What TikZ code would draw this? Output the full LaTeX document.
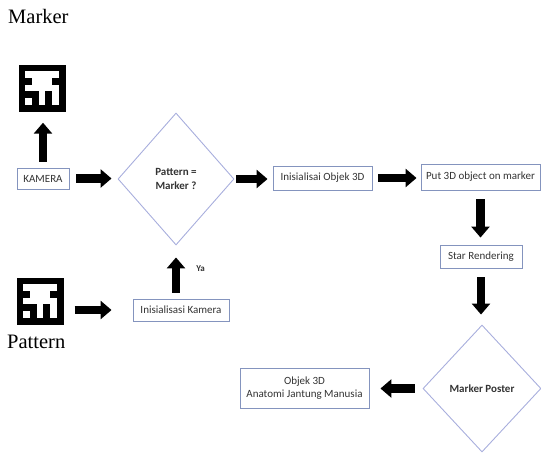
\documentclass[tikz,border=0pt]{standalone}
\usepackage{fontspec}
\setmainfont{Liberation Serif}
\newfontfamily\boxfont{Carlito}
\usetikzlibrary{shapes.geometric,arrows.meta}
\definecolor{boxline}{HTML}{8494BE}
\definecolor{dialine}{HTML}{A8AEDD}
\definecolor{txt}{HTML}{333333}
\begin{document}
\begin{tikzpicture}[x=1pt,y=-1pt,
  procbox/.style={draw=boxline, line width=0.9pt, inner sep=0pt, font=\boxfont\fontsize{11}{13}\selectfont, text=txt, align=center},
  decision/.style={diamond, draw=dialine, line width=0.9pt, inner sep=0pt, font=\boxfont\bfseries\fontsize{11}{14}\selectfont, text=txt, align=center},
  blockarrow/.style={line width=8.5pt, -{Triangle[length=11pt,width=18pt]}},
  tagicon/.style={fill=black, minimum size=47pt, inner sep=0pt},
  caption/.style={font=\fontsize{20.5}{24}\selectfont, anchor=base west, inner sep=0pt},
  arrowlabel/.style={font=\boxfont\bfseries\fontsize{9}{10}\selectfont, text=txt, inner sep=0pt}
]
\useasboundingbox (0,0) rectangle (541,456);

% nodes
\node[caption] (mcap) at (8,23) {Marker};
\node[tagicon] (mk) at (42,88) {};
\node[procbox, minimum width=52pt, minimum height=21pt] (kam) at (43,178.5) {KAMERA};
\node[decision, minimum width=116pt, minimum height=132pt] (d1) at (176,179) {Pattern =\\Marker ?};
\node[procbox, minimum width=99pt, minimum height=24pt] (io) at (322.5,178) {Inisialisai Objek 3D};
\node[procbox, minimum width=119pt, minimum height=26pt] (put) at (480.5,177) {Put 3D object on marker};
\node[procbox, minimum width=82pt, minimum height=23pt] (sr) at (481,256.5) {Star Rendering};
\node[decision, minimum width=118pt, minimum height=127pt] (d2) at (482,388.5) {Marker Poster};
\node[procbox, minimum width=96pt, minimum height=22pt] (ik) at (181,310) {Inisialisasi Kamera};
\node[procbox, minimum width=129pt, minimum height=40pt] (obj) at (304.5,388) {Objek 3D\\Anatomi Jantung Manusia};
\node[tagicon] (pt) at (40,301) {};
\node[caption] (pcap) at (7,348) {Pattern};

% marker patterns
\foreach \t in {mk,pt} {
  \begin{scope}[shift={(\t.center)}, x=6.71pt, y=-6.71pt]
    \fill[white] (-2.5,-2.5) rectangle (2.5,2.5);
    \fill[black] (-2.5,-1.5) rectangle (-1.5,-0.5);
    \fill[black] (1.5,-1.5) rectangle (2.5,-0.5);
    \fill[black] (-2.5,0.5) rectangle (-0.5,1.5);
    \fill[black] (-1.5,1.5) rectangle (-0.5,2.5);
    \fill[black] (0.5,0.5) rectangle (1.5,2.5);
  \end{scope}
}

% connectors
\draw[blockarrow, shorten <=6pt, shorten >=11pt] (kam.north) -- (kam.north |- mk.south);
\draw[blockarrow, shorten <=7pt, shorten >=6pt] (kam.east) -- (kam.east -| d1.west);
\draw[blockarrow, shorten <=2pt, shorten >=5pt] (d1.east) -- (d1.east -| io.west);
\draw[blockarrow, shorten <=6pt, shorten >=4pt] (io.east) -- (io.east -| put.west);
\draw[blockarrow, shorten <=9pt, shorten >=7pt] (put.south) -- (put.south |- sr.north);
\draw[blockarrow, shorten <=9pt, shorten >=10pt] (sr.south) -- (sr.south |- d2.north);
\draw[blockarrow, shorten <=8pt, shorten >=11pt] (d2.west) -- (d2.west -| obj.east);
\draw[blockarrow, shorten <=11pt, shorten >=21pt] (ik.west -| pt.east) -- (ik.west);
\draw[blockarrow, shorten <=6pt, shorten >=12pt] (d1.south |- ik.north) -- node[arrowlabel, pos=0.57, anchor=west, xshift=16pt] (ya) {Ya} (d1.south);
\end{tikzpicture}
\end{document}
